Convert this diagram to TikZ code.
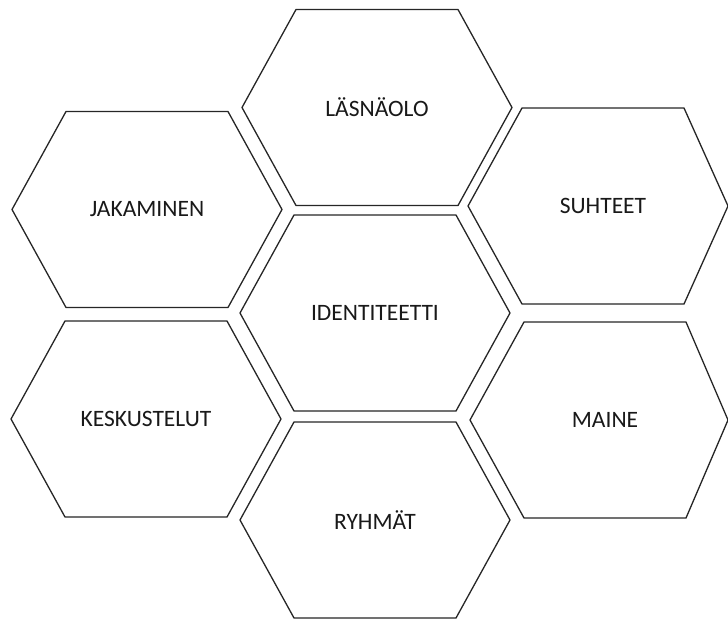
\documentclass[tikz,border=0pt]{standalone}
\usepackage{fontspec}
\setmainfont{Carlito}
\usetikzlibrary{positioning}

\begin{document}
\begin{tikzpicture}[
    x=1pt, y=-1pt,
    every node/.style={font=\fontsize{23.5}{28}\selectfont},
    hexline/.style={draw=black!85, line width=1.3pt, line join=miter, fill=white},
    hexlabel/.style={text=black!90, inner sep=0pt, align=center},
]

\clip (0,0) rectangle (728,619);

% honeycomb: centre x / centre y / right run / name / label
\foreach \cx/\cy/\ar/\nm/\txt in {
    377/107.5/135/lasnaolo/LÄSNÄOLO,
    147/209.5/135/jakaminen/JAKAMINEN,
    603/206/125/suhteet/SUHTEET,
    375/313/135/identiteetti/IDENTITEETTI,
    146/419/135/keskustelut/KESKUSTELUT,
    605/420/123/maine/MAINE,
    375/520/135/ryhmat/RYHMÄT} {
    \draw[hexline] (\cx-135,\cy) -- (\cx-81,\cy-98) -- (\cx+81,\cy-98)
        -- (\cx+\ar,\cy) -- (\cx+81,\cy+98) -- (\cx-81,\cy+98) -- cycle;
    \node[hexlabel] (\nm) at (\cx,\cy) {\txt};
}

\end{tikzpicture}
\end{document}
